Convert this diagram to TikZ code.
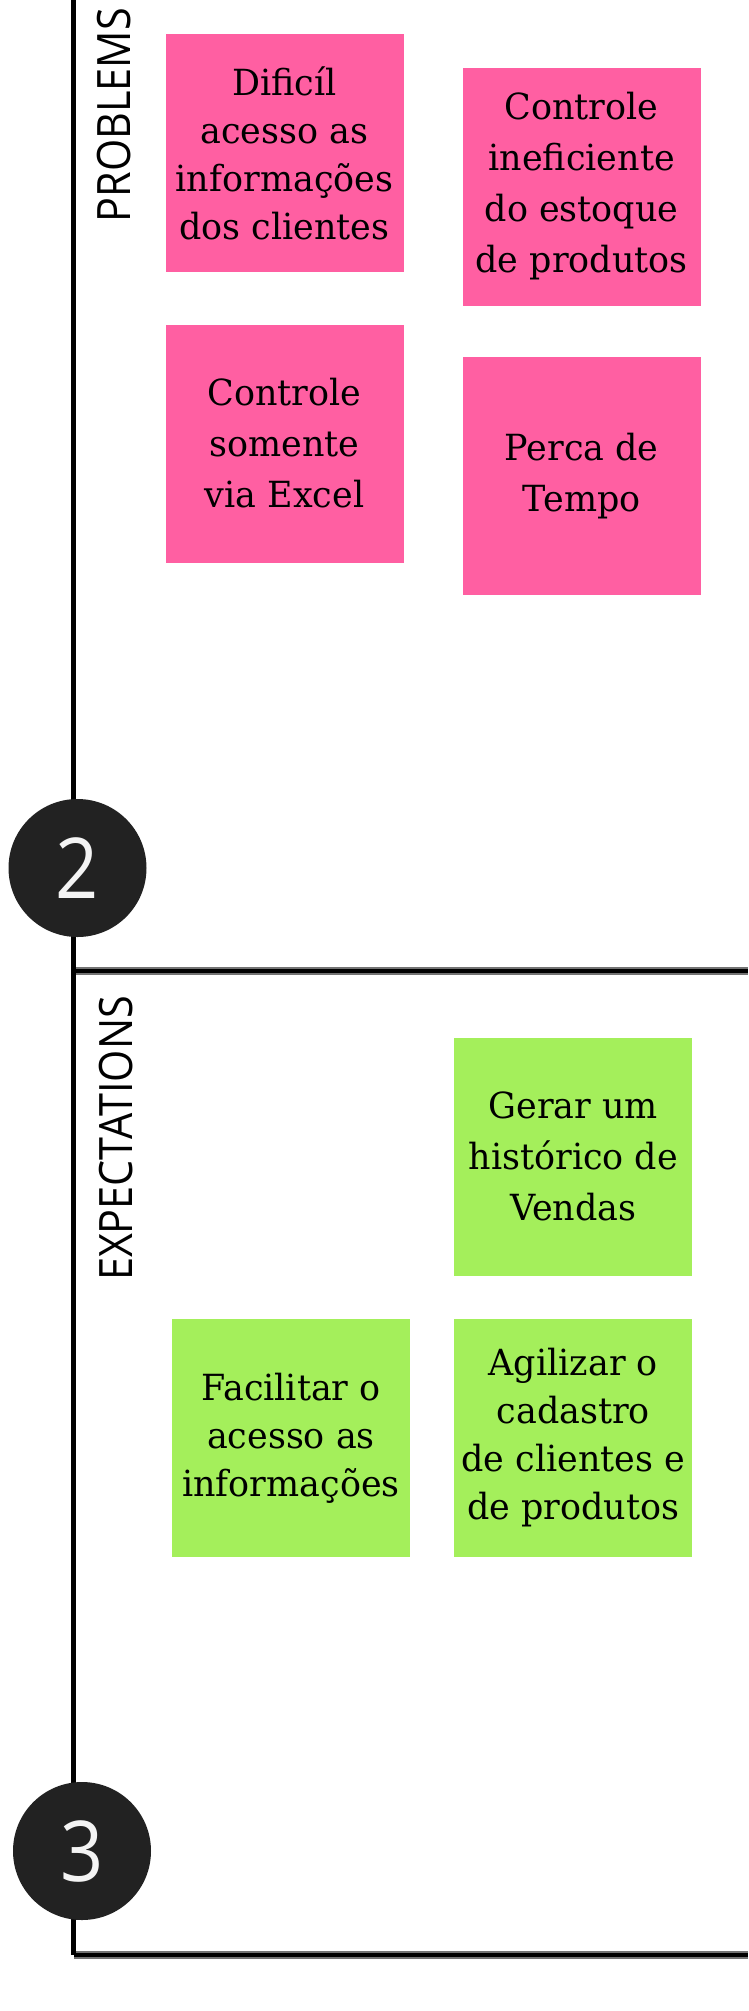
\documentclass[tikz,border=0pt]{standalone}
\usepackage{fontspec}
\usepackage{graphicx}
\setmainfont[FakeStretch=0.97]{DejaVu Serif}
\newfontfamily\labelfont[FakeStretch=0.9]{Open Sans}
\newfontfamily\numfont[FakeStretch=0.9]{Open Sans}
\definecolor{pinknote}{HTML}{FF5FA2}
\definecolor{greennote}{HTML}{A4EF5B}
\definecolor{badge}{HTML}{222222}
\definecolor{badgetext}{HTML}{F4F4F4}
\begin{document}
\begin{tikzpicture}[x=1pt,y=-1pt,
  note/.style={minimum width=238pt,minimum height=238pt,inner sep=0pt,align=center},
  tightnote/.style={note,font=\fontsize{36}{48}\selectfont},
  loosenote/.style={note,font=\fontsize{36}{51}\selectfont},
  pinkfill/.style={fill=pinknote},
  greenfill/.style={fill=greennote},
  badgenode/.style={circle,fill=badge,minimum size=138pt,inner sep=0pt,text=badgetext,font=\numfont\fontsize{84}{84}\selectfont},
  sidelabel/.style={rotate=90,anchor=base,inner sep=0pt,font=\labelfont\fontsize{46}{46}\selectfont},
  frameline/.style={line width=5pt,draw=black},
  fringe/.style={line width=8pt,draw=black!55},
]
\useasboundingbox (0,0) rectangle (748,2011);
\fill[white] (0,0) rectangle (748,2011);

% frame coordinates
\coordinate (topleft) at (73.5,0);
\coordinate (midleft) at (73.5,971);
\coordinate (midright) at (748,971);
\coordinate (botleft) at (73.5,1955);
\coordinate (botright) at (748,1955);

% lines
\draw[fringe] (midleft) -- (midright);
\draw[fringe] (botleft) -- (botright);
\draw[frameline] (topleft) -- (midleft) -- (botleft);
\draw[line width=4pt] (midleft) -- (midright);
\draw[line width=4pt] (botleft) -- (botright);

% side labels
\node[sidelabel] (problems) at (130,115) {PROBLEMS};
\node[sidelabel] (expectations) at (132,1138.5) {EXPECTATIONS};

% problem notes
\node[tightnote,pinkfill] (p1) at (284.5,153.3) {Dificíl\\acesso as\\informações\\dos clientes};
\node[loosenote,pinkfill] (p2) at (581.6,186.5) {Controle\\ineficiente\\do estoque\\de produtos};
\node[loosenote,pinkfill] (p3) at (284.6,443.5) {Controle\\somente\\via Excel};
\node[loosenote,pinkfill] (p4) at (581.6,476.1) {Perca de\\Tempo};

% expectation notes
\node[loosenote,greenfill] (g1) at (573.3,1156.6) {Gerar um\\histórico de\\Vendas};
\node[tightnote,greenfill] (g2) at (291,1438) {Facilitar o\\acesso as\\informações};
\node[tightnote,greenfill] (g3) at (573.3,1438) {Agilizar o\\cadastro\\de clientes e\\de produtos};

% badges
\node[badgenode] (two) at (77.5,868) {2};
\node[badgenode] (three) at (82,1851) {3};
\end{tikzpicture}
\end{document}
